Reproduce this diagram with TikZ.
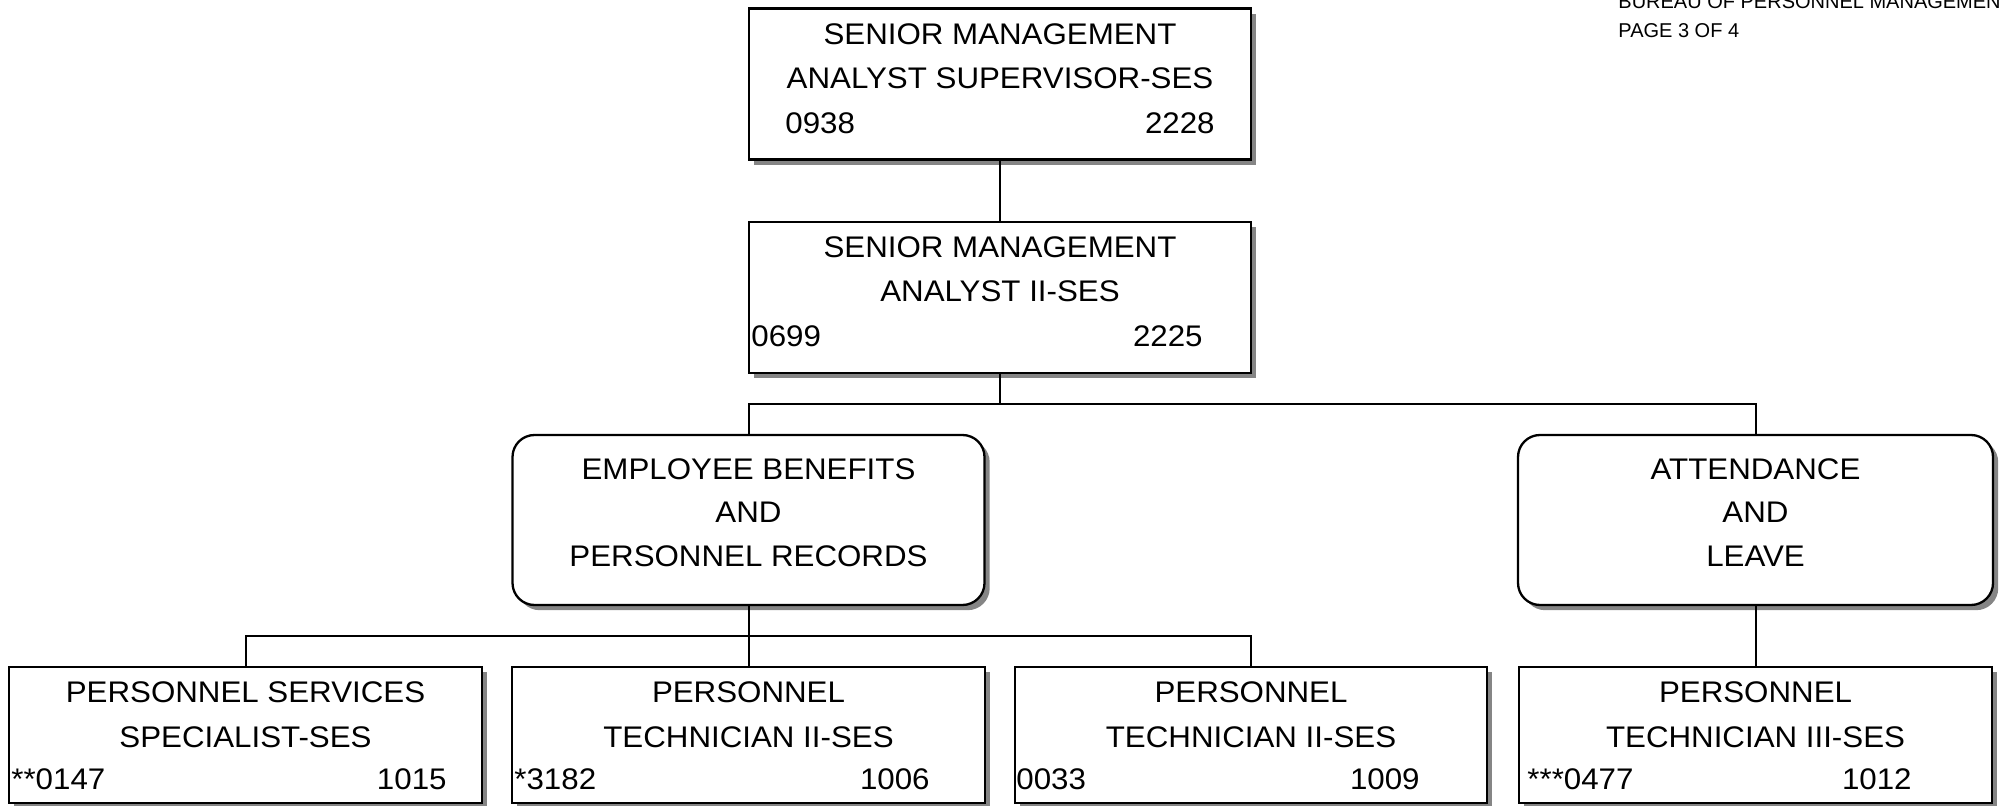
\documentclass[tikz,border=0pt]{standalone}
\usepackage{fontspec}
\setmainfont{Liberation Sans}[FakeStretch=1.05]
\newfontfamily\hdrfont{Liberation Sans}
\usetikzlibrary{shadows}

\definecolor{shadowgray}{gray}{0.52}

\tikzset{
  posbox/.style={draw=black, line width=1.15pt, fill=white, inner sep=0pt,
    drop shadow={shadow xshift=2.6pt, shadow yshift=-2.6pt, fill=shadowgray, opacity=1}},
  unitbox/.style={posbox, rounded corners=11pt},
  ttl/.style={anchor=base, inner sep=0pt, font=\fontsize{14.9}{18}\selectfont},
  numl/.style={anchor=base west, inner sep=0pt, font=\fontsize{14.9}{18}\selectfont},
  numr/.style={anchor=base east, inner sep=0pt, font=\fontsize{14.9}{18}\selectfont},
  hdr/.style={anchor=base west, inner sep=0pt, font=\hdrfont\fontsize{10}{12}\selectfont},
  link/.style={draw=black, line width=1pt},
}

\begin{document}
\begin{tikzpicture}[x=0.5pt, y=-0.5pt]
\useasboundingbox (0,0) rectangle (2005,806);

% page header
\node[hdr] (hdr1) at (1618,9) {BUREAU OF PERSONNEL MANAGEMENT};
\node[hdr] (hdr2) at (1618,38) {PAGE 3 OF 4};

% supervisor
\node[posbox, minimum width=251pt, minimum height=75.5pt] (smas) at (1000,84) {};
\node[ttl] (smas-a) at (1000,44.5) {SENIOR MANAGEMENT};
\node[ttl] (smas-b) at (1000,88.5) {ANALYST SUPERVISOR-SES};
\node[numl] (smas-l) at (785,133.5) {0938};
\node[numr] (smas-r) at (1215,133.5) {2228};

% analyst II
\node[posbox, minimum width=251pt, minimum height=75.5pt] (smii) at (1000,297.5) {};
\node[ttl] (smii-a) at (1000,258) {SENIOR MANAGEMENT};
\node[ttl] (smii-b) at (1000,302) {ANALYST II-SES};
\node[numl] (smii-l) at (751,346.5) {0699};
\node[numr] (smii-r) at (1203,346.5) {2225};

% units
\node[unitbox, minimum width=236pt, minimum height=85pt] (eb) at (748.5,520) {};
\node[ttl] (eb-a) at (748.5,480) {EMPLOYEE BENEFITS};
\node[ttl] (eb-b) at (748.5,522.5) {AND};
\node[ttl] (eb-c) at (748.5,566) {PERSONNEL RECORDS};

\node[unitbox, minimum width=237.5pt, minimum height=85pt] (att) at (1755.5,520) {};
\node[ttl] (att-a) at (1755.5,480) {ATTENDANCE};
\node[ttl] (att-b) at (1755.5,522.5) {AND};
\node[ttl] (att-c) at (1755.5,566) {LEAVE};

% staff positions
\node[posbox, minimum width=236.5pt, minimum height=68pt] (p1) at (245.5,735) {};
\node[ttl] (p1-a) at (245.5,702.5) {PERSONNEL SERVICES};
\node[ttl] (p1-b) at (245.5,747) {SPECIALIST-SES};
\node[numl] (p1-l) at (11,789.5) {**0147};
\node[numr] (p1-r) at (447,789.5) {1015};

\node[posbox, minimum width=236.5pt, minimum height=68pt] (p2) at (748.5,735) {};
\node[ttl] (p2-a) at (748.5,702.5) {PERSONNEL};
\node[ttl] (p2-b) at (748.5,747) {TECHNICIAN II-SES};
\node[numl] (p2-l) at (514,789.5) {*3182};
\node[numr] (p2-r) at (930,789.5) {1006};

\node[posbox, minimum width=236pt, minimum height=68pt] (p3) at (1251,735) {};
\node[ttl] (p3-a) at (1251,702.5) {PERSONNEL};
\node[ttl] (p3-b) at (1251,747) {TECHNICIAN II-SES};
\node[numl] (p3-l) at (1016,789.5) {0033};
\node[numr] (p3-r) at (1420,789.5) {1009};

\node[posbox, minimum width=236.5pt, minimum height=68pt] (p4) at (1755.5,735) {};
\node[ttl] (p4-a) at (1755.5,702.5) {PERSONNEL};
\node[ttl] (p4-b) at (1755.5,747) {TECHNICIAN III-SES};
\node[numl] (p4-l) at (1527,789.5) {***0477};
\node[numr] (p4-r) at (1912,789.5) {1012};

% reporting lines
\coordinate (bus1) at (1000,404);
\coordinate (bus2) at (748.5,636);
\draw[link] (smas.south) -- (smii.north);
\draw[link] (smii.south) -- (bus1);
\draw[link] (eb.north) |- (bus1) -| (att.north);
\draw[link] (eb.south) -- (bus2);
\draw[link] (p1.north) |- (bus2) -| (p3.north);
\draw[link] (bus2) -- (p2.north);
\draw[link] (att.south) -- (p4.north);
\end{tikzpicture}
\end{document}
